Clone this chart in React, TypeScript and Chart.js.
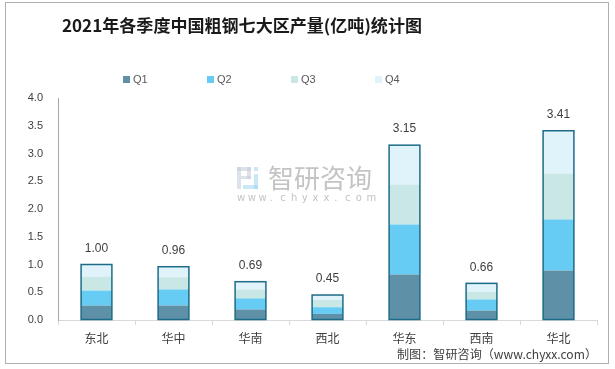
import React, { useEffect, useRef } from "react";
import { Chart, registerables } from "chart.js";

Chart.register(...registerables);

const categories = ["东北", "华中", "华南", "西北", "华东", "西南", "华北"];
const q1 = [0.26, 0.26, 0.19, 0.11, 0.82, 0.17, 0.89];
const q2 = [0.27, 0.29, 0.2, 0.12, 0.9, 0.2, 0.92];
const q3 = [0.25, 0.22, 0.16, 0.13, 0.72, 0.14, 0.83];
const q4 = [0.22, 0.19, 0.14, 0.09, 0.71, 0.15, 0.77];
const totals = ["1.00", "0.96", "0.69", "0.45", "3.15", "0.66", "3.41"];
const seriesNames = ["Q1", "Q2", "Q3", "Q4"];
const seriesColors = ["#5E90A8", "#66CCF3", "#C9E7E5", "#E0F3FA"];
const titleText = "2021年各季度中国粗钢七大区产量(亿吨)统计图";
const sourceText = "制图：智研咨询（www.chyxx.com）";

const CJK = '"Noto Sans CJK SC", "Noto Sans", sans-serif';

const decorPlugin = {
  id: "decor",
  beforeDraw(chart: any) {
    const ctx = chart.ctx;
    ctx.save();
    ctx.fillStyle = "#ffffff";
    ctx.fillRect(0, 0, chart.width, chart.height);
    // frame
    ctx.strokeStyle = "#b0b0b0";
    ctx.lineWidth = 1;
    ctx.strokeRect(5.5, 2.5, 603, 361);
    // watermark
    ctx.globalAlpha = 0.55;
    ctx.fillStyle = "#c3cbdb";
    ctx.fillRect(237, 167, 4, 22);
    ctx.fillRect(237, 167, 14, 4);
    ctx.fillRect(247, 167, 4, 12);
    ctx.fillRect(241, 176, 10, 3);
    ctx.fillStyle = "#9fd3ec";
    ctx.fillRect(254, 167, 4, 4);
    ctx.fillRect(254, 174, 4, 15);
    ctx.fillRect(243, 185, 15, 4);
    ctx.globalAlpha = 1;
    ctx.fillStyle = "#c4c4c4";
    ctx.font = `26px ${CJK}`;
    ctx.textBaseline = "middle";
    ctx.textAlign = "left";
    ctx.fillText("智研咨询", 268, 178);
    ctx.font = `10px "DejaVu Sans", sans-serif`;
    const wm = "www.chyxx.com".split("");
    let wx = 237;
    wm.forEach((c) => {
      ctx.fillText(c, wx, 198);
      wx += 10.8;
    });
    ctx.restore();
  },
  afterDatasetsDraw(chart: any) {
    const ctx = chart.ctx;
    const m1 = chart.getDatasetMeta(0);
    const m4 = chart.getDatasetMeta(3);
    ctx.save();
    ctx.strokeStyle = "#1D6B89";
    ctx.lineWidth = 1.5;
    m4.data.forEach((el: any, i: number) => {
      const base = m1.data[i].base;
      const w = el.width;
      ctx.strokeRect(el.x - w / 2, el.y, w, base - el.y);
      ctx.fillStyle = "#404040";
      ctx.font = `12px "Liberation Sans", sans-serif`;
      ctx.textAlign = "center";
      ctx.textBaseline = "middle";
      ctx.fillText(totals[i], el.x, el.y - 16);
    });
    ctx.restore();
  },
  afterDraw(chart: any) {
    const ctx = chart.ctx;
    ctx.save();
    // title
    ctx.fillStyle = "#1a1a1a";
    ctx.font = `bold 17px ${CJK}`;
    ctx.textBaseline = "middle";
    ctx.textAlign = "left";
    const tw = ctx.measureText(titleText).width;
    const scale = 360 / tw;
    ctx.translate(62, 26);
    ctx.scale(scale, 1);
    ctx.fillText(titleText, 0, 0);
    ctx.setTransform(1, 0, 0, 1, 0, 0);
    // legend
    ctx.font = `11px "Liberation Sans", sans-serif`;
    seriesNames.forEach((n, i) => {
      const x = 123 + i * 84;
      ctx.fillStyle = seriesColors[i];
      ctx.fillRect(x, 76, 7, 7);
      ctx.fillStyle = "#595959";
      ctx.textBaseline = "middle";
      ctx.fillText(n, x + 10, 80);
    });
    // source
    ctx.fillStyle = "#404040";
    ctx.font = `12px ${CJK}`;
    const sw = ctx.measureText(sourceText).width;
    ctx.translate(397, 354);
    ctx.scale(200 / sw, 1);
    ctx.fillText(sourceText, 0, 0);
    ctx.restore();
  },
};

export default function App() {
  const ref = useRef<HTMLCanvasElement>(null);
  useEffect(() => {
    if (!ref.current) return;
    const chart = new Chart(ref.current, {
      type: "bar",
      data: {
        labels: categories,
        datasets: [q1, q2, q3, q4].map((d, i) => ({
          label: seriesNames[i],
          data: d,
          backgroundColor: seriesColors[i],
          borderWidth: 0,
          categoryPercentage: 1,
          barPercentage: 0.4,
        })),
      },
      options: {
        animation: false,
        responsive: false,
        devicePixelRatio: 1,
        layout: { padding: { left: 0, right: 18, top: 98, bottom: 0 } },
        plugins: {
          legend: { display: false },
          title: { display: false },
          tooltip: { enabled: false },
        },
        scales: {
          x: {
            stacked: true,
            grid: {
              display: true,
              drawOnChartArea: false,
              drawTicks: true,
              tickLength: 5,
              color: "#d9d9d9",
            },
            border: { display: true, color: "#d9d9d9" },
            ticks: {
              color: "#404040",
              font: { size: 12, family: CJK },
              padding: 6,
              maxRotation: 0,
            },
            afterFit: (s: any) => {
              s.height = 49;
            },
          },
          y: {
            stacked: true,
            min: 0,
            max: 4,
            grid: { display: true, drawOnChartArea: false, drawTicks: false },
            border: { display: true, color: "#a6a6a6" },
            ticks: {
              stepSize: 0.5,
              color: "#404040",
              font: { size: 11, family: '"Liberation Sans", sans-serif' },
              padding: 15,
              callback: (v: any) => Number(v).toFixed(1),
            },
            afterFit: (s: any) => {
              s.width = 58;
            },
          },
        },
      },
      plugins: [decorPlugin],
    });
    return () => chart.destroy();
  }, []);
  return (
    <div style={{ position: "fixed", left: 0, top: 0, width: 615, height: 369, background: "#fff" }}>
      <canvas ref={ref} width={615} height={369} style={{ width: 615, height: 369 }} />
    </div>
  );
}
